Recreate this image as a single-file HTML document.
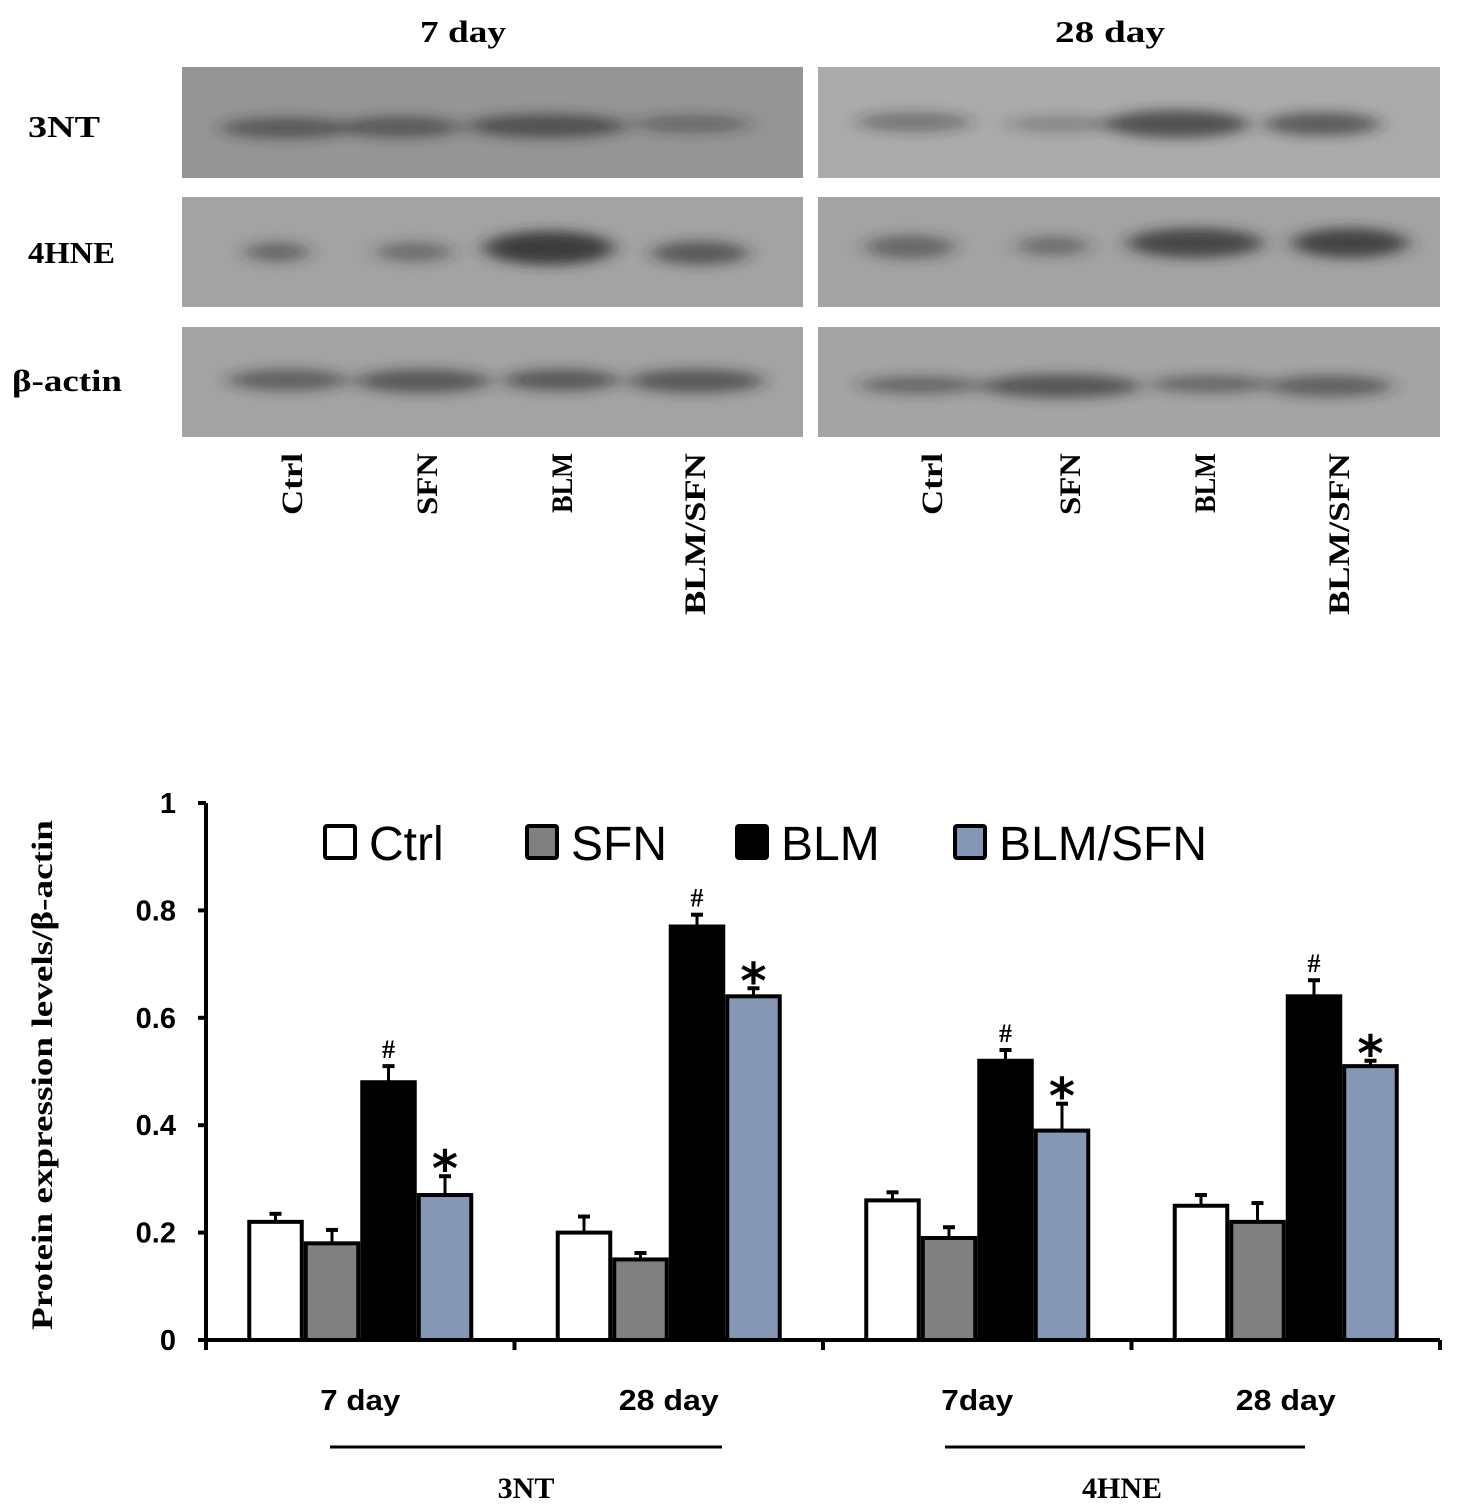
<!DOCTYPE html>
<html><head><meta charset="utf-8"><style>
html,body{margin:0;padding:0;background:#fff}
svg{display:block}
.serif{font-family:"Liberation Serif",serif;font-weight:bold}
.sans{font-family:"Liberation Sans",sans-serif}
</style></head><body>
<svg id="fig" width="1463" height="1512" viewBox="0 0 1463 1512" xmlns="http://www.w3.org/2000/svg">
<defs>
<filter id="blur" x="-50%" y="-100%" width="200%" height="300%"><feGaussianBlur stdDeviation="10 6"/></filter>
</defs>
<g id="blots">
<text class="serif" x="420" y="42" font-size="31" textLength="86" lengthAdjust="spacingAndGlyphs">7 day</text>
<text class="serif" x="1055" y="42" font-size="31" textLength="110" lengthAdjust="spacingAndGlyphs">28 day</text>
<text class="serif" x="28" y="137" font-size="31" textLength="72" lengthAdjust="spacingAndGlyphs">3NT</text>
<text class="serif" x="28" y="263" font-size="31" textLength="87" lengthAdjust="spacingAndGlyphs">4HNE</text>
<text class="serif" x="12" y="391" font-size="31" textLength="110" lengthAdjust="spacingAndGlyphs">β-actin</text>
</g>
<g id="chart"></g>
</svg>
<script>
const NS='http://www.w3.org/2000/svg';
function mk(parent,tag,attrs,text){const e=document.createElementNS(NS,tag);for(const k in attrs)e.setAttribute(k,attrs[k]);if(text!==undefined)e.textContent=text;parent.appendChild(e);return e;}

// ---- blots ----
const blots=document.getElementById('blots');
const panelX=[182,818], panelW=[621,622];
const rowY=[67,197,327], rowH=[111,110,110];
const bandsLeft=[[[286,128,65,11,0.55],[401,127,60,11,0.55],[547,126,80,12,0.65],[692,124,60,9,0.4]],
 [[277,252,32,10,0.5],[414,252,38,10,0.45],[549,248,65,17,0.85],[700,253,48,12,0.6]],
 [[288,380,60,11,0.55],[423,381,68,12,0.6],[561,380,58,11,0.6],[696,381,68,12,0.6]]];
const bandsRight=[[[914,122,58,10,0.4],[1061,124,55,8,0.3],[1177,124,72,14,0.7],[1322,124,58,12,0.6]],
 [[910,247,45,12,0.5],[1053,246,36,10,0.45],[1195,243,68,15,0.75],[1350,243,58,15,0.8]],
 [[920,385,62,9,0.5],[1061,386,80,12,0.65],[1210,384,60,9,0.5],[1330,386,62,11,0.55]]];
const bgL=['#959595','#a3a3a3','#a3a3a3'], bgR=['#ababab','#a3a3a3','#a4a4a4'];
for(let p=0;p<2;p++){for(let r=0;r<3;r++){
  const rect=mk(blots,'rect',{x:panelX[p],y:rowY[r],width:panelW[p],height:rowH[r],fill:(p?bgR:bgL)[r]});
  
  
  const g=mk(blots,'g',{filter:'url(#blur)'});
  const bs=(p?bandsRight:bandsLeft)[r];
  bs.forEach(b=>{const el=mk(g,'ellipse',{cx:b[0],cy:b[1],rx:b[2],ry:b[3],fill:'#2a2a2a','fill-opacity':b[4]});
    
    });
}}
const laneLabels=['Ctrl','SFN','BLM','BLM/SFN'];
const laneX=[[292,427,562,695],[932,1070,1205,1339]];
const laneLen=[62,62,60,162];
for(let p=0;p<2;p++)laneLabels.forEach((t,i)=>{
  const el=mk(blots,'text',{class:'serif',x:0,y:0,'font-size':30,'text-anchor':'end',textLength:laneLen[i],lengthAdjust:'spacingAndGlyphs',transform:`translate(${laneX[p][i]+10},453) rotate(-90)`},t);
  
  
});

// ---- chart data ----
const groups=['7 day','28 day','7day','28 day'];
const series=['Ctrl','SFN','BLM','BLM/SFN'];
const ctrlVals=[0.22,0.20,0.26,0.25];
const sfnVals=[0.18,0.15,0.19,0.22];
const blmVals=[0.48,0.77,0.52,0.64];
const blmsfnVals=[0.27,0.64,0.39,0.51];
const ctrlErr=[0.015,0.03,0.015,0.02];
const sfnErr=[0.025,0.012,0.02,0.035];
const blmErr=[0.03,0.022,0.02,0.03];
const blmsfnErr=[0.035,0.015,0.05,0.01];
const yTicks=[0,0.2,0.4,0.6,0.8,1];
const yTickLabels=['0','0.2','0.4','0.6','0.8','1'];
const marks=[['','','#','*'],['','','#','*'],['','','#','*'],['','','#','*']];

const chart=document.getElementById('chart');
const x0=206,x1=1440,y0=1340,yTop=803;
const yS=v=>y0-(v/1)*(y0-yTop);
const gW=(x1-x0)/groups.length;
const xG=i=>x0+gW*(i+0.5);
const bw=56.5;
const fills=['#ffffff','#808080','#000000','#8497b5'];
const vals=[ctrlVals,sfnVals,blmVals,blmsfnVals];
const errs=[ctrlErr,sfnErr,blmErr,blmsfnErr];

// axes
let ax=mk(chart,'line',{x1:x0,y1:yTop,x2:x0,y2:y0,stroke:'#000','stroke-width':4});

ax=mk(chart,'line',{x1:x0,y1:y0,x2:x1,y2:y0,stroke:'#000','stroke-width':4});

yTicks.forEach((v,i)=>{
  mk(chart,'line',{x1:x0-8,y1:yS(v),x2:x0,y2:yS(v),stroke:'#000','stroke-width':4});
  const t=mk(chart,'text',{class:'sans',x:x0-30,y:yS(v)+10,'font-size':29,'font-weight':'bold','text-anchor':'end'},yTickLabels[i]);
  
  
});
for(let i=0;i<=groups.length;i++)mk(chart,'line',{x1:x0+gW*i,y1:y0,x2:x0+gW*i,y2:y0+10,stroke:'#000','stroke-width':4});
const yt=mk(chart,'text',{class:'serif',x:0,y:0,'font-size':30,'text-anchor':'middle',textLength:510,lengthAdjust:'spacingAndGlyphs',transform:'translate(52,1075) rotate(-90)'},'Protein expression levels/β-actin');


// bars
groups.forEach((g,gi)=>{
  series.forEach((s,si)=>{
    const v=vals[si][gi],e=errs[si][gi];
    const bx=xG(gi)-2*bw+si*bw;
    const ey=yS(v+e);
    mk(chart,'line',{x1:bx+bw/2,y1:yS(v),x2:bx+bw/2,y2:ey,stroke:'#000','stroke-width':3});
    mk(chart,'line',{x1:bx+bw/2-6,y1:ey,x2:bx+bw/2+6,y2:ey,stroke:'#000','stroke-width':4});
    const r=mk(chart,'rect',{x:bx+2,y:yS(v),width:bw-4,height:y0-yS(v),fill:fills[si],stroke:'#000','stroke-width':4});
    
    
    const m=marks[gi][si];
    if(m==='#'){const t=mk(chart,'text',{class:'serif',x:bx+bw/2,y:ey-8,'font-size':26,'font-weight':'normal','text-anchor':'middle'},'#');
      }
    if(m==='*'){const t=mk(chart,'text',{x:bx+bw/2,y:ey+10,'font-size':50,'font-weight':'bold','font-family':'DejaVu Sans, sans-serif','text-anchor':'middle'},'*');
      }
  });
  const t=mk(chart,'text',{class:'sans',x:xG(gi),y:1410,'font-size':29,'font-weight':'bold','text-anchor':'middle',textLength:g==='7day'?72:(g==='7 day'?80:100),lengthAdjust:'spacingAndGlyphs'},g);
  
});
// brackets
[[330,722,526,'3NT'],[945,1305,1122,'4HNE']].forEach(b=>{
  const l=mk(chart,'line',{x1:b[0],y1:1447,x2:b[1],y2:1447,stroke:'#000','stroke-width':3});
  
  const t=mk(chart,'text',{class:'serif',x:b[2],y:1498,'font-size':30,'text-anchor':'middle'},b[3]);
  
});
// legend
const legX=[325,527,737,955];
series.forEach((s,i)=>{
  const r=mk(chart,'rect',{x:legX[i],y:826,width:30,height:32,fill:fills[i],stroke:'#000','stroke-width':4,rx:2});
  
  const t=mk(chart,'text',{class:'sans',x:legX[i]+44,y:860,'font-size':48},s);
  
});
</script>
</body></html>
